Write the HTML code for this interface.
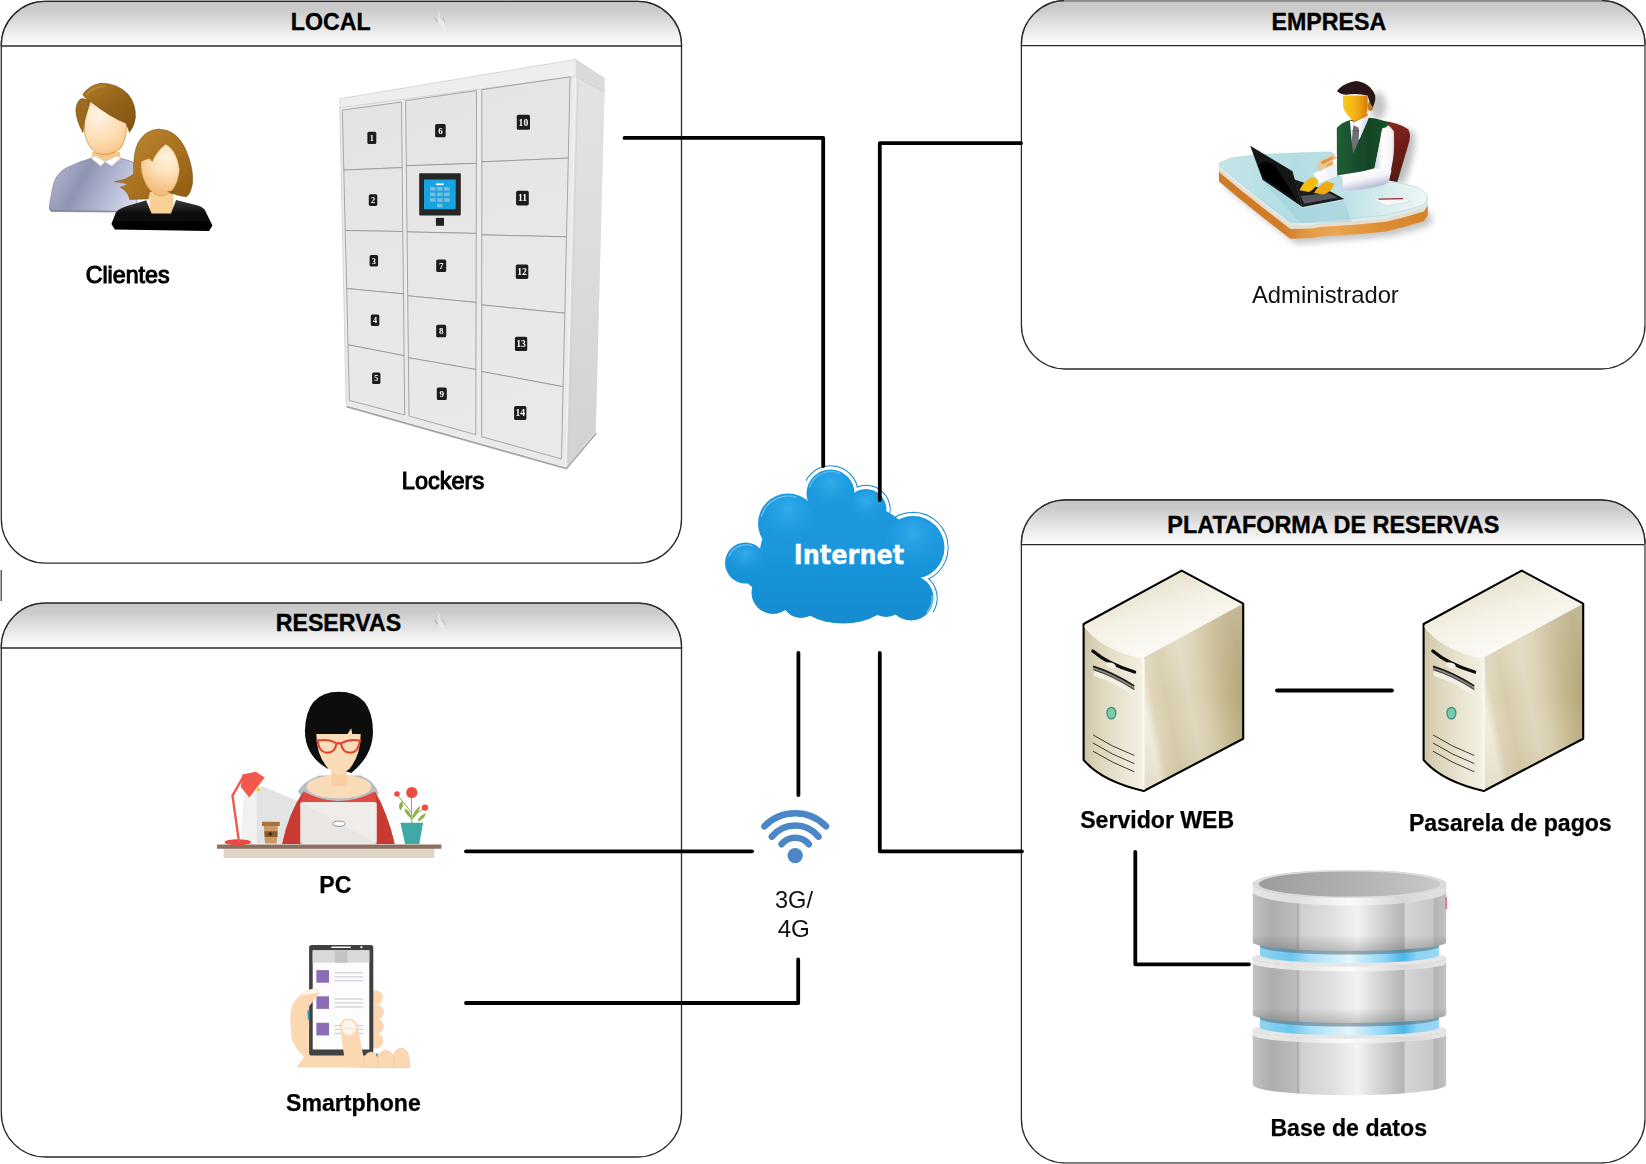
<!DOCTYPE html>
<html lang="es">
<head>
<meta charset="utf-8">
<title>Arquitectura Lockers</title>
<style>
html,body{margin:0;padding:0;background:#fff;}
body{width:1646px;height:1164px;overflow:hidden;font-family:"Liberation Sans",sans-serif;}
svg{display:block;}
text{font-family:"Liberation Sans",sans-serif;}
.hd{font-weight:bold;font-size:23.2px;stroke:#000;stroke-width:0.35px;fill:#000;text-anchor:middle;}
.lb{font-weight:bold;font-size:23.1px;stroke:#000;stroke-width:0.25px;fill:#000;text-anchor:middle;}
.ln{fill:none;stroke:#000;stroke-width:3.8;stroke-linecap:round;stroke-linejoin:round;}
</style>
</head>
<body>
<svg width="1646" height="1164" viewBox="0 0 1646 1164">
<defs>
<linearGradient id="hdg" x1="0" y1="0" x2="0" y2="1">
<stop offset="0" stop-color="#c6c6c6"/><stop offset="0.19" stop-color="#cbcbcb"/><stop offset="0.48" stop-color="#dedede"/><stop offset="0.75" stop-color="#f0f0f0"/><stop offset="1" stop-color="#fdfdfd"/>
</linearGradient>
</defs>
<!--PANELS-->
<g id="panels" stroke="#2a2a2a" stroke-width="1.3" fill="#fff">
<rect x="1.3" y="1.3" width="680.2" height="561.8" rx="44" ry="44"/>
<path d="M1.3 46 V45.3 A44 44 0 0 1 45.3 1.3 H637.5 A44 44 0 0 1 681.5 45.3 V46 Z" fill="url(#hdg)"/>
<rect x="1.3" y="603.2" width="680.2" height="553.8" rx="44" ry="44"/>
<path d="M1.3 648 V647.2 A44 44 0 0 1 45.3 603.2 H637.5 A44 44 0 0 1 681.5 647.2 V648 Z" fill="url(#hdg)"/>
<rect x="1021.4" y="0.7" width="623.6" height="368.3" rx="44" ry="44"/>
<path d="M1021.4 45.6 V44.7 A44 44 0 0 1 1065.4 0.7 H1601 A44 44 0 0 1 1645 44.7 V45.6 Z" fill="url(#hdg)"/>
<rect x="1021.4" y="500" width="623.6" height="663" rx="44" ry="44"/>
<path d="M1021.4 544.6 V544 A44 44 0 0 1 1065.4 500 H1601 A44 44 0 0 1 1645 544 V544.6 Z" fill="url(#hdg)"/>
</g>
<g id="edges" stroke="#8c8c8c" stroke-width="1.6" fill="none">
<line x1="1064" y1="0.7" x2="1602" y2="0.7"/>
<line x1="1645.4" y1="45" x2="1645.4" y2="326"/>
<line x1="1645.4" y1="544" x2="1645.4" y2="1120"/>
<line x1="1064" y1="1163.3" x2="1602" y2="1163.3"/>
</g>
<line x1="1.2" y1="570" x2="1.2" y2="601" stroke="#333" stroke-width="1.2"/>
<g id="smudge"><path d="M437.5 8.5 Q441 14 440 18 Q445 22 446 31 Q442 30 440.5 25 Q437 21 438.5 16 Q438 12 437.5 8.5 Z" fill="#f2f2f2" opacity="0.55"/><path d="M435 18 L437 21.6" stroke="#8a8a8a" stroke-width="0.9" stroke-linecap="round" opacity="0.8"/><path d="M443.4 18 L444.8 22.6" stroke="#9a9a9a" stroke-width="0.7" stroke-linecap="round" opacity="0.7"/></g>
<use href="#smudge" transform="translate(0 602)"/>
<!--HEADERS-->
<text class="hd" x="330.8" y="30.1">LOCAL</text>
<text class="hd" x="1328.8" y="30.1">EMPRESA</text>
<text class="hd" x="338.4" y="631">RESERVAS</text>
<text class="hd" x="1333.3" y="532.8" style="font-size:23.45px">PLATAFORMA DE RESERVAS</text>
<!--CLOUD-->
<g id="cloud">
<defs>
<linearGradient id="cg" gradientUnits="userSpaceOnUse" x1="0" y1="468" x2="0" y2="624">
<stop offset="0" stop-color="#1c9be0"/><stop offset="0.55" stop-color="#1a96dc"/><stop offset="1" stop-color="#168bd0"/>
</linearGradient>
<radialGradient id="ch" cx="0.5" cy="0.25" r="0.6"><stop offset="0" stop-color="#36acec" stop-opacity="0.9"/><stop offset="1" stop-color="#1c9be0" stop-opacity="0"/></radialGradient>
<filter id="cblur" x="-10%" y="-10%" width="120%" height="120%"><feGaussianBlur stdDeviation="0.7"/></filter>
</defs>
<clipPath id="cclip"><path d="M806 440 H960 V612 H925 L900 560 L806 500 Z"/></clipPath>
<g clip-path="url(#cclip)">
<g fill="none" stroke="#2a8fd2" stroke-width="1.2">
<circle cx="830.5" cy="493.5" r="27.6"/><circle cx="866" cy="509.5" r="24.1"/><circle cx="913" cy="547.5" r="35.1"/><circle cx="911" cy="598" r="26.1"/>
</g>
<g fill="#fff" stroke="none">
<circle cx="830.5" cy="493.5" r="27"/><circle cx="866" cy="509.5" r="23.5"/><circle cx="913" cy="547.5" r="34.5"/><circle cx="911" cy="598" r="25.5"/>
</g>
</g>
<g fill="url(#cg)" filter="url(#cblur)">
<circle cx="830.5" cy="493.5" r="24"/>
<circle cx="866" cy="509.5" r="20.5"/>
<circle cx="913" cy="547.5" r="31.5"/>
<circle cx="911" cy="598" r="22.5"/>
<ellipse cx="843" cy="596" rx="47" ry="27.5"/>
<circle cx="773" cy="592.5" r="21.5"/>
<circle cx="801" cy="599" r="19"/>
<circle cx="886" cy="598" r="19"/>
<circle cx="745.5" cy="563" r="20.5"/>
<circle cx="762" cy="572" r="18"/>
<circle cx="788" cy="523.5" r="30"/>
<ellipse cx="838" cy="552" rx="78" ry="52"/>
</g>
<g fill="url(#ch)">
<circle cx="830.5" cy="493.5" r="22"/><circle cx="788" cy="523.5" r="28"/><circle cx="745.5" cy="563" r="18.5"/><circle cx="913" cy="547.5" r="29"/><circle cx="866" cy="509.5" r="18"/>
</g>
<g fill="none" stroke="#7fcbf3" stroke-width="1.3" stroke-linecap="round" opacity="0.75">
<path d="M729 556 A19 19 0 0 1 752 545.5"/>
<path d="M761.5 516 A28 28 0 0 1 796 497"/>
<path d="M809.5 487 A22.5 22.5 0 0 1 840 473.5"/>
<path d="M932 596 A20 20 0 0 1 927 612" stroke="#9ad6f5"/>
</g>
<text x="849" y="563.6" text-anchor="middle" style="font-family:'DejaVu Sans','Liberation Sans',sans-serif;font-weight:bold;font-size:26.2px" fill="#fff" stroke="#fff" stroke-width="0.3" textLength="110.6" lengthAdjust="spacingAndGlyphs">Internet</text>
</g>
<!--WIFI-->
<g id="wifi" fill="none" stroke="#4b86c9" stroke-width="6.6" stroke-linecap="round">
<circle cx="795.2" cy="855.6" r="7.7" fill="#4b86c9" stroke="none"/>
<path d="M781.6 844.2 A17.6 17.6 0 0 1 808.8 844.2"/>
<path d="M771.9 836.6 A30 30 0 0 1 818.5 836.6"/>
<path d="M764.4 826.3 A43 43 0 0 1 826 826.3"/>
</g>
<!--SERVER-->
<defs>
<linearGradient id="svTop" gradientUnits="userSpaceOnUse" x1="1150" y1="575" x2="1175" y2="655">
<stop offset="0" stop-color="#e6dfca"/><stop offset="0.45" stop-color="#f4f1e6"/><stop offset="1" stop-color="#fdfcf8"/></linearGradient>
<linearGradient id="svFront" gradientUnits="userSpaceOnUse" x1="1083" y1="0" x2="1144" y2="0">
<stop offset="0" stop-color="#cdc4a6"/><stop offset="0.25" stop-color="#ddd5bb"/><stop offset="0.7" stop-color="#ece7d6"/><stop offset="0.9" stop-color="#f1ecdd"/><stop offset="1" stop-color="#f8f5ec"/></linearGradient>
<linearGradient id="svSide" gradientUnits="userSpaceOnUse" x1="1144" y1="700" x2="1243" y2="680">
<stop offset="0" stop-color="#f2eddc"/><stop offset="0.08" stop-color="#dfd6b9"/><stop offset="0.22" stop-color="#d7cdab"/><stop offset="0.44" stop-color="#e0d8bd"/><stop offset="0.58" stop-color="#d9cfae"/><stop offset="0.82" stop-color="#c1b388"/><stop offset="1" stop-color="#b2a273"/></linearGradient>
<linearGradient id="svSideV" x1="0" y1="0" x2="0" y2="1"><stop offset="0" stop-color="#fff" stop-opacity="0.25"/><stop offset="0.5" stop-color="#fff" stop-opacity="0"/><stop offset="1" stop-color="#6b5a2a" stop-opacity="0.12"/></linearGradient>
<g id="server">
<path d="M1083.6 624 L1181.7 570.6 L1243.2 603.7 L1143.8 657.4 Q1101 648 1083.6 624 Z" fill="url(#svTop)"/>
<path d="M1143.8 657.4 L1243.2 603.7 V738.7 L1143.8 791 Z" fill="url(#svSide)"/>
<path d="M1143.8 657.4 L1243.2 603.7 V738.7 L1143.8 791 Z" fill="url(#svSideV)"/>
<path d="M1083.6 624 Q1101 648 1143.8 657.4 V791 Q1101 781 1083.6 759.8 Z" fill="url(#svFront)"/>
<path d="M1083.6 624 L1181.7 570.6 L1243.2 603.7 V738.7 L1143.8 791 Q1101 781 1083.6 759.8 Z" fill="none" stroke="#000" stroke-width="2.1" stroke-linejoin="round"/>
<path d="M1143.8 658.5 V790" stroke="#fbf9f2" stroke-width="1.6" fill="none"/>
<path d="M1084.6 626 Q1101 649 1143.8 658.4" stroke="#faf8f0" stroke-width="1.4" fill="none"/>
<path d="M1093 666 Q1112 672 1134.3 685.9 V696.2 Q1112 681 1093.9 676 Z" fill="#f3f0e6"/>
<path d="M1093 666 Q1112 672 1134.3 685.9 V690.4 Q1112 676 1093.4 670.6 Z" fill="#8d897c"/>
<path d="M1093 666.4 Q1112 672 1134.3 685.9" stroke="#1d1d1d" stroke-width="1.7" fill="none"/>
<path d="M1093.3 669.6 Q1112 675.4 1134.3 689.4" stroke="#3a3a3a" stroke-width="0.9" fill="none"/>
<path d="M1092.8 651 Q1108 664 1134.6 672" stroke="#0a0a0a" stroke-width="3.2" fill="none" stroke-linecap="round"/>
<ellipse cx="1110.8" cy="665.2" rx="5" ry="2.6" fill="#f4f1e8" transform="rotate(18 1110.8 665.2)"/>
<ellipse cx="1111.4" cy="713.1" rx="5.1" ry="6.4" fill="#3f8d73"/>
<ellipse cx="1111.4" cy="713.1" rx="3.9" ry="5.2" fill="#77ccae"/>
<g stroke="#2a271c" stroke-width="0.9" fill="none">
<path d="M1093 734.9 Q1112 747 1134.3 755.5"/><path d="M1093 743 Q1112 755 1134.3 763.6"/><path d="M1093 751.2 Q1112 763 1134.3 771.8"/>
</g>
</g>
</defs>
<use href="#server"/>
<use href="#server" transform="translate(340 0)"/>
<!--DB-->
<defs>
<linearGradient id="dbg" gradientUnits="userSpaceOnUse" x1="1252.8" y1="0" x2="1446.2" y2="0">
<stop offset="0" stop-color="#c4c4c4"/><stop offset="0.05" stop-color="#b6b6b6"/><stop offset="0.10" stop-color="#adadad"/><stop offset="0.225" stop-color="#bdbdbd"/><stop offset="0.232" stop-color="#a9a9a9"/><stop offset="0.245" stop-color="#cfcfcf"/>
<stop offset="0.40" stop-color="#dedede"/><stop offset="0.54" stop-color="#f3f3f3"/><stop offset="0.60" stop-color="#e2e2e2"/><stop offset="0.78" stop-color="#b4b4b4"/><stop offset="0.79" stop-color="#d6d6d6"/><stop offset="0.93" stop-color="#c6c6c6"/><stop offset="0.94" stop-color="#b4b4b4"/><stop offset="1" stop-color="#c2c2c2"/>
</linearGradient>
<linearGradient id="dbr" gradientUnits="userSpaceOnUse" x1="1252.8" y1="0" x2="1446.2" y2="0">
<stop offset="0" stop-color="#e9e9e9"/><stop offset="0.23" stop-color="#e4e4e4"/><stop offset="0.5" stop-color="#fbfbfb"/><stop offset="0.78" stop-color="#dadada"/><stop offset="1" stop-color="#e6e6e6"/>
</linearGradient>
<linearGradient id="dbb" gradientUnits="userSpaceOnUse" x1="1252.8" y1="0" x2="1446.2" y2="0">
<stop offset="0.03" stop-color="#8fd3f2"/><stop offset="0.2" stop-color="#6ec6ee"/><stop offset="0.3" stop-color="#a8e0f7"/><stop offset="0.5" stop-color="#e4f6fd"/><stop offset="0.68" stop-color="#8ed5f4"/><stop offset="0.78" stop-color="#49b6e8"/><stop offset="0.85" stop-color="#8ed5f4"/><stop offset="1" stop-color="#9bd8f3"/>
</linearGradient>
<linearGradient id="dbt" gradientUnits="userSpaceOnUse" x1="1252.8" y1="870" x2="1446.2" y2="900">
<stop offset="0" stop-color="#9a9a9a"/><stop offset="0.5" stop-color="#b0b0b0"/><stop offset="1" stop-color="#cbcbcb"/>
</linearGradient>
<linearGradient id="dbsh" x1="0" y1="0" x2="0" y2="1"><stop offset="0" stop-color="#000" stop-opacity="0"/><stop offset="0.8" stop-color="#000" stop-opacity="0"/><stop offset="1" stop-color="#000" stop-opacity="0.18"/></linearGradient>
</defs>
<g id="db">
<path d="M1252.8 1030 V1084.7 A96.7 10.5 0 0 0 1446.2 1084.7 V1030 A96.7 8.5 0 0 0 1252.8 1030 Z" fill="url(#dbg)"/>
<path d="M1252.8 1030 A96.7 8.5 0 0 0 1446.2 1030 V1034.8 A96.7 8.5 0 0 1 1252.8 1034.8 Z" fill="url(#dbr)"/>
<ellipse cx="1349.5" cy="1030" rx="96.7" ry="8.5" fill="#e6e6e6"/>
<path d="M1259.9 1014 V1027.3 A89.6 8 0 0 0 1439.1 1027.3 V1014 Z" fill="url(#dbb)"/>
<path d="M1259.9 1014 A89.6 8 0 0 0 1439.1 1014 V1018.5 A89.6 8 0 0 1 1259.9 1018.5 Z" fill="#5c6a72" opacity="0.55"/>
<path d="M1252.8 958 V1014.6 A96.7 8.3 0 0 0 1446.2 1014.6 V958 A96.7 8.5 0 0 0 1252.8 958 Z" fill="url(#dbg)"/>
<path d="M1252.8 958 V1014.6 A96.7 8.3 0 0 0 1446.2 1014.6 V958 A96.7 8.5 0 0 0 1252.8 958 Z" fill="url(#dbsh)"/>
<path d="M1252.8 958 A96.7 8.5 0 0 0 1446.2 958 V963 A96.7 8.5 0 0 1 1252.8 963 Z" fill="url(#dbr)"/>
<ellipse cx="1349.5" cy="958" rx="96.7" ry="8.5" fill="#e6e6e6"/>
<path d="M1259.9 942 V955 A89.6 8 0 0 0 1439.1 955 V942 Z" fill="url(#dbb)"/>
<path d="M1259.9 942 A89.6 8 0 0 0 1439.1 942 V946.5 A89.6 8 0 0 1 1259.9 946.5 Z" fill="#5c6a72" opacity="0.55"/>
<path d="M1252.8 884 V942.5 A96.7 8.3 0 0 0 1446.2 942.5 V884 A96.7 14 0 0 0 1252.8 884 Z" fill="url(#dbg)"/>
<path d="M1252.8 884 V942.5 A96.7 8.3 0 0 0 1446.2 942.5 V884 A96.7 14 0 0 0 1252.8 884 Z" fill="url(#dbsh)"/>
<path d="M1252.8 884 A96.7 14 0 0 0 1446.2 884 V891.5 A96.7 14 0 0 1 1252.8 891.5 Z" fill="url(#dbr)" opacity="0.9"/>
<ellipse cx="1349.5" cy="884" rx="96.7" ry="14" fill="#dcdcdc"/>
<ellipse cx="1349.5" cy="884" rx="90.7" ry="12.6" fill="url(#dbt)"/>
<rect x="1445.4" y="897" width="1.6" height="12" fill="#e8506a" opacity="0.8"/>
</g>
<!--LOCKER-->
<defs>
<linearGradient id="lkF" gradientUnits="userSpaceOnUse" x1="340" y1="100" x2="570" y2="460"><stop offset="0" stop-color="#ececec"/><stop offset="1" stop-color="#e9e9e9"/></linearGradient>
<linearGradient id="lkD" gradientUnits="userSpaceOnUse" x1="340" y1="80" x2="480" y2="460"><stop offset="0" stop-color="#e3e3e3"/><stop offset="0.5" stop-color="#e7e7e7"/><stop offset="1" stop-color="#e9e9e9"/></linearGradient>
<linearGradient id="lkS" gradientUnits="userSpaceOnUse" x1="575" y1="80" x2="600" y2="440"><stop offset="0" stop-color="#e3e3e3"/><stop offset="0.5" stop-color="#dcdcdc"/><stop offset="1" stop-color="#d3d3d3"/></linearGradient>
<filter id="lkb" x="-5%" y="-5%" width="110%" height="110%"><feGaussianBlur stdDeviation="0.45"/></filter>
</defs>
<g id="locker" filter="url(#lkb)">
<path d="M346.5 405.5 L566 467.4 L596 432.2 L596.6 434 L566.6 469.6 L346.5 407.6 Z" fill="#6a6a6a" opacity="0.6"/>
<path d="M339.8 98.8 L575.4 59.5 L604.5 78.4 L604.5 92.5 L595.7 431.7 L566.1 466.9 L346.2 405.1 L339.8 107.7 Z" fill="url(#lkF)"/>
<path d="M575.6 76.5 L604.5 92.5 L595.7 431.7 L566.1 466.9 Z" fill="url(#lkS)"/>
<path d="M575.4 59.5 L604.5 78.4 V92.5 L575.4 76.5 Z" fill="#dadada"/>
<path d="M339.8 98.8 L575.4 59.5 V76.5 L339.8 107.7 Z" fill="#eeeeee"/>
<path d="M339.8 98.8 L575.4 59.5 L604.5 78.4" fill="none" stroke="#d0d0d0" stroke-width="0.8"/>
<path d="M339.8 107.7 L575.4 76.5 L604.5 92.5" fill="none" stroke="#c9c9c9" stroke-width="0.7"/>
<path d="M575.6 76.5 L566.1 466.9" fill="none" stroke="#f4f4f4" stroke-width="1.2"/>
<path d="M578 78.5 L568.7 463.5" fill="none" stroke="#cfcfcf" stroke-width="0.7"/>
<path d="M339.8 98.8 V107.7 L346.2 405.1" fill="none" stroke="#cdcdcd" stroke-width="0.8"/>
<g fill="url(#lkD)" stroke="#8f8f8f" stroke-width="0.75" stroke-linejoin="round">
<path d="M342.3 110.1 L401.5 102.0 L402.2 167.6 L343.8 170.0 Z"/>
<path d="M343.8 170.0 L402.2 167.6 L402.8 231.5 L345.2 230.5 Z"/>
<path d="M345.2 230.5 L402.8 231.5 L403.5 293.9 L346.7 288.5 Z"/>
<path d="M346.7 288.5 L403.5 293.9 L404.1 355.7 L348.0 344.8 Z"/>
<path d="M348.0 344.8 L404.1 355.7 L404.7 415.0 L349.4 400.5 Z"/>
<path d="M405.6 100.7 L476.5 90.6 L476.4 163.4 L406.3 165.7 Z"/>
<path d="M406.3 165.7 L476.4 163.4 L476.2 233.4 L407.0 231.9 Z"/>
<path d="M407.0 231.9 L476.2 233.4 L476.1 302.4 L407.7 295.8 Z"/>
<path d="M407.7 295.8 L476.1 302.4 L475.9 369.5 L408.4 357.7 Z"/>
<path d="M408.4 357.7 L475.9 369.5 L475.8 434.7 L409.0 416.0 Z"/>
<path d="M481.8 89.7 L570.1 76.8 L568.3 158.1 L481.8 161.9 Z"/>
<path d="M481.8 161.9 L568.3 158.1 L566.5 236.8 L481.8 234.9 Z"/>
<path d="M481.8 234.9 L566.5 236.8 L564.8 313.2 L481.7 304.9 Z"/>
<path d="M481.7 304.9 L564.8 313.2 L563.1 386.7 L481.7 371.5 Z"/>
<path d="M481.7 371.5 L563.1 386.7 L561.5 459.0 L481.7 436.7 Z"/>
</g>
<rect x="419.2" y="173.3" width="41.6" height="42.1" rx="1" fill="#262626"/>
<rect x="424" y="179.5" width="31.7" height="29.7" fill="#19a4e2"/>
<g fill="#7fb9dc"><rect x="430" y="187" width="5.5" height="3.6"/><rect x="437" y="187" width="5.5" height="3.6"/><rect x="444" y="187" width="5.5" height="3.6"/>
<rect x="430" y="192.6" width="5.5" height="3.6"/><rect x="437" y="192.6" width="5.5" height="3.6"/><rect x="444" y="192.6" width="5.5" height="3.6"/>
<rect x="430" y="198.2" width="5.5" height="3.6"/><rect x="437" y="198.2" width="5.5" height="3.6"/><rect x="444" y="198.2" width="5.5" height="3.6"/>
<rect x="437" y="203.8" width="5.5" height="3.6"/></g>
<rect x="436" y="183.4" width="7.5" height="1.7" fill="#fff"/>
<rect x="435.9" y="217.9" width="8.1" height="7.9" fill="#222"/>
<rect x="367.4" y="131.7" width="8.9" height="12.3" rx="1.6" fill="#1b1b1b"/><text x="371.9" y="140.6" font-size="8.2" text-anchor="middle" fill="#fff" style="font-family:'Liberation Serif',serif;font-weight:bold">1</text>
<rect x="368.8" y="194.2" width="8.5" height="11.7" rx="1.6" fill="#1b1b1b"/><text x="373.0" y="202.9" font-size="8.2" text-anchor="middle" fill="#fff" style="font-family:'Liberation Serif',serif;font-weight:bold">2</text>
<rect x="369.6" y="255.1" width="8.5" height="11.5" rx="1.6" fill="#1b1b1b"/><text x="373.9" y="263.7" font-size="8.2" text-anchor="middle" fill="#fff" style="font-family:'Liberation Serif',serif;font-weight:bold">3</text>
<rect x="370.8" y="314.4" width="8.5" height="11.5" rx="1.6" fill="#1b1b1b"/><text x="375.0" y="322.9" font-size="8.2" text-anchor="middle" fill="#fff" style="font-family:'Liberation Serif',serif;font-weight:bold">4</text>
<rect x="372.1" y="372.6" width="8.3" height="11.5" rx="1.6" fill="#1b1b1b"/><text x="376.2" y="381.2" font-size="8.2" text-anchor="middle" fill="#fff" style="font-family:'Liberation Serif',serif;font-weight:bold">5</text>
<rect x="435.1" y="124.1" width="10.6" height="13.2" rx="1.6" fill="#1b1b1b"/><text x="440.4" y="133.8" font-size="9" text-anchor="middle" fill="#fff" style="font-family:'Liberation Serif',serif;font-weight:bold">6</text>
<rect x="436.2" y="259.6" width="10" height="12.5" rx="1.6" fill="#1b1b1b"/><text x="441.2" y="268.9" font-size="9" text-anchor="middle" fill="#fff" style="font-family:'Liberation Serif',serif;font-weight:bold">7</text>
<rect x="436.2" y="324.8" width="10" height="12.5" rx="1.6" fill="#1b1b1b"/><text x="441.2" y="334.1" font-size="9" text-anchor="middle" fill="#fff" style="font-family:'Liberation Serif',serif;font-weight:bold">8</text>
<rect x="436.8" y="387.6" width="10" height="12.5" rx="1.6" fill="#1b1b1b"/><text x="441.8" y="396.9" font-size="9" text-anchor="middle" fill="#fff" style="font-family:'Liberation Serif',serif;font-weight:bold">9</text>
<rect x="516.8" y="114.7" width="13.2" height="15.1" rx="1.6" fill="#1b1b1b"/><text x="523.4" y="125.5" font-size="9.6" text-anchor="middle" fill="#fff" style="font-family:'Liberation Serif',serif;font-weight:bold">10</text>
<rect x="516.1" y="190.8" width="12.7" height="14.6" rx="1.6" fill="#1b1b1b"/><text x="522.5" y="201.4" font-size="9.6" text-anchor="middle" fill="#fff" style="font-family:'Liberation Serif',serif;font-weight:bold">11</text>
<rect x="515.8" y="264.4" width="12.5" height="14.5" rx="1.6" fill="#1b1b1b"/><text x="522.0" y="275.0" font-size="9.6" text-anchor="middle" fill="#fff" style="font-family:'Liberation Serif',serif;font-weight:bold">12</text>
<rect x="514.9" y="336.7" width="12.3" height="14.3" rx="1.6" fill="#1b1b1b"/><text x="521.0" y="347.1" font-size="9.6" text-anchor="middle" fill="#fff" style="font-family:'Liberation Serif',serif;font-weight:bold">13</text>
<rect x="514.1" y="406.0" width="12.3" height="14" rx="1.6" fill="#1b1b1b"/><text x="520.2" y="416.3" font-size="9.6" text-anchor="middle" fill="#fff" style="font-family:'Liberation Serif',serif;font-weight:bold">14</text>
</g>
<!--PEOPLE-->
<defs>
<linearGradient id="mBody" gradientUnits="userSpaceOnUse" x1="52" y1="165" x2="135" y2="212"><stop offset="0" stop-color="#b3b7d1"/><stop offset="0.35" stop-color="#8f94b3"/><stop offset="0.7" stop-color="#b9bdd6"/><stop offset="1" stop-color="#dfe1ee"/></linearGradient>
<radialGradient id="mFace" gradientUnits="userSpaceOnUse" cx="98" cy="116" r="42"><stop offset="0" stop-color="#fff4e6"/><stop offset="0.5" stop-color="#fee0b8"/><stop offset="0.85" stop-color="#fbcd96"/><stop offset="1" stop-color="#f3b672"/></radialGradient>
<linearGradient id="mHair" gradientUnits="userSpaceOnUse" x1="95" y1="85" x2="125" y2="130"><stop offset="0" stop-color="#a97622"/><stop offset="0.5" stop-color="#93621a"/><stop offset="1" stop-color="#85560f"/></linearGradient>
<radialGradient id="wFace" gradientUnits="userSpaceOnUse" cx="167" cy="158" r="34"><stop offset="0" stop-color="#fff3e0"/><stop offset="0.5" stop-color="#fddfb4"/><stop offset="1" stop-color="#f3bd7c"/></radialGradient>
<linearGradient id="wHair" gradientUnits="userSpaceOnUse" x1="130" y1="135" x2="195" y2="200"><stop offset="0" stop-color="#b98330"/><stop offset="0.5" stop-color="#a7701f"/><stop offset="1" stop-color="#8b5a14"/></linearGradient>
<linearGradient id="wBody" x1="0" y1="0" x2="0" y2="1"><stop offset="0" stop-color="#3c3c3c"/><stop offset="0.45" stop-color="#0b0b0b"/><stop offset="1" stop-color="#000"/></linearGradient>
<filter id="ppb" x="-5%" y="-5%" width="110%" height="110%"><feGaussianBlur stdDeviation="0.5"/></filter>
</defs>
<g id="people" filter="url(#ppb)">
<!-- man -->
<path d="M51.7 210.9 L136.4 211.4 L136.4 163.5 Q127.6 159.8 119.6 158.1 L91.8 158.1 Q78.0 162.0 66.3 167.9 Q55.3 173.7 52.9 186.8 L49.5 205.1 Q49.1 209.5 51.7 210.9 Z" fill="url(#mBody)" stroke="#8a8ca0" stroke-width="0.8"/>
<path d="M50.2 207.3 Q49.6 210.5 52.4 211.1 L121.8 211.7" fill="none" stroke="#77798c" stroke-width="1.6" opacity="0.7"/>
<path d="M92.3 151.8 L120.0 151.8 L120.6 159.4 L111.6 164.9 L105.0 160.8 L100.2 165.2 L91.4 159.4 Z" fill="#f6c78a"/>
<path d="M91.4 157.6 L95.5 156.2 L105.0 161.7 L100.6 166.1 Z" fill="#fff" stroke="#d5d7e2" stroke-width="0.5"/>
<path d="M120.6 157.6 L116.7 156.2 L105.0 161.7 L111.9 166.1 Z" fill="#fff" stroke="#d5d7e2" stroke-width="0.5"/>
<path d="M84.5 110.1 Q84.5 99.5 94.3 97.8 L122.0 106.0 Q126.9 114.2 126.5 127.2 Q126.1 140.3 120.4 148.4 Q108.9 157.4 96.7 153.3 Q86.9 146.8 84.5 132.1 Z" fill="url(#mFace)" stroke="#c58a45" stroke-width="0.7"/>
<path d="M90.2 101.3 Q87.3 98.2 81.2 98.8 Q76.3 101.9 75.9 110.1 Q76.3 120.7 83.0 132.5 Q83.7 120.7 87.7 110.1 Z" fill="#9b6a1c" stroke="#6f470e" stroke-width="0.6"/>
<path d="M82.8 95.0 Q87.7 85.6 100.8 83.2 Q117.1 83.2 127.7 93.8 Q135.9 103.5 135.4 117.4 Q134.6 125.6 129.5 132.3 L126.2 123.3 Q110.6 117.4 90.2 101.3 Q86.1 98.7 82.8 95.0 Z" fill="url(#mHair)" stroke="#6f470e" stroke-width="0.6"/>
<path d="M86.9 94.2 Q94.3 86.4 105.7 86.0" fill="none" stroke="#c79a45" stroke-width="1.4" stroke-linecap="round" opacity="0.55"/>
<!-- woman -->
<path d="M148.8 192.2 L173.6 192.2 L173.0 213.8 L150.4 213.8 Z" fill="#f8cf94"/>
<path d="M146.2 200.2 L125.6 206.6 Q117.4 209.7 115.8 212.8 L111.4 224.1 L114.8 229.5 L209.1 231.1 L212.4 225.4 L204.5 209.2 Q200.9 206.1 197.8 205.4 L176.1 199.9 L171.0 213.6 L151.6 213.6 Z" fill="url(#wBody)"/>
<path d="M158.6 129.1 Q177.2 129.3 186.4 150.9 Q193.7 168.5 192.6 182.9 Q190.6 194.2 186.4 196.8 Q177.2 196.3 166.9 191.1 L172.0 186.0 L149.3 192.2 L148.3 198.9 L129.7 199.6 Q128.7 192.2 120.5 187.2 Q125.6 186.0 127.2 183.4 Q121.5 182.9 114.5 181.6 Q127.7 179.8 133.7 173.6 Q132.8 154.0 138.0 142.7 Q146.2 129.3 158.6 129.1 Z" fill="url(#wHair)" stroke="#7d5212" stroke-width="0.5"/>
<path d="M165.8 144.2 Q177.2 150.9 179.4 169.5 Q178.7 181.9 172.0 190.6 Q165.8 196.8 158.6 195.8 Q150.4 192.2 145.7 183.9 Q140.1 172.6 141.1 161.8 Q145.2 159.2 149.5 158.4 L152.2 161.8 Q156.5 150.9 165.8 144.2 Z" fill="url(#wFace)" stroke="#c98a3c" stroke-width="0.5"/>
<path d="M166.9 191.1 Q175.1 192.2 181.3 187.0 Q177.2 194.2 171.0 193.7 Z" fill="#8f5e16"/>
</g>
<!--ADMIN-->
<defs>
<linearGradient id="adGlass" gradientUnits="userSpaceOnUse" x1="1220" y1="160" x2="1430" y2="205"><stop offset="0" stop-color="#c4e5ea"/><stop offset="0.35" stop-color="#b3dde4"/><stop offset="0.62" stop-color="#bfe2e6"/><stop offset="0.85" stop-color="#dff0f1"/><stop offset="1" stop-color="#eef7f7"/></linearGradient>
<linearGradient id="adWood" gradientUnits="userSpaceOnUse" x1="1220" y1="0" x2="1430" y2="0"><stop offset="0" stop-color="#cf7a26"/><stop offset="0.3" stop-color="#d17c27"/><stop offset="0.42" stop-color="#e39a45"/><stop offset="0.55" stop-color="#eaa652"/><stop offset="0.75" stop-color="#dd8f36"/><stop offset="1" stop-color="#d58228"/></linearGradient>
<linearGradient id="adHead" gradientUnits="userSpaceOnUse" x1="1343" y1="0" x2="1368" y2="0"><stop offset="0" stop-color="#f9c81c"/><stop offset="0.45" stop-color="#f5b516"/><stop offset="0.8" stop-color="#e3910f"/><stop offset="1" stop-color="#c97a12"/></linearGradient>
<linearGradient id="adVest" gradientUnits="userSpaceOnUse" x1="1337" y1="0" x2="1390" y2="0"><stop offset="0" stop-color="#1f6135"/><stop offset="0.2" stop-color="#1a5530"/><stop offset="0.6" stop-color="#154426"/><stop offset="1" stop-color="#1b5530"/></linearGradient>
<linearGradient id="adChair" gradientUnits="userSpaceOnUse" x1="1385" y1="120" x2="1410" y2="180"><stop offset="0" stop-color="#8d2a24"/><stop offset="0.45" stop-color="#6e1c18"/><stop offset="1" stop-color="#4f1a12"/></linearGradient>
<linearGradient id="adSleeve" gradientUnits="userSpaceOnUse" x1="1345" y1="170" x2="1350" y2="192"><stop offset="0" stop-color="#ffffff"/><stop offset="0.55" stop-color="#f7f7fb"/><stop offset="1" stop-color="#b9bdd6"/></linearGradient>
<linearGradient id="adSleeveV" gradientUnits="userSpaceOnUse" x1="1376" y1="0" x2="1395" y2="0"><stop offset="0" stop-color="#d5d8e8"/><stop offset="0.35" stop-color="#ffffff"/><stop offset="0.8" stop-color="#f4f4f9"/><stop offset="1" stop-color="#cfd2e3"/></linearGradient>
<filter id="adSh" x="-20%" y="-20%" width="140%" height="140%"><feGaussianBlur stdDeviation="3.4"/></filter>
<filter id="adb" x="-5%" y="-5%" width="110%" height="110%"><feGaussianBlur stdDeviation="0.5"/></filter>
</defs>
<g id="admin">
<g filter="url(#adSh)" opacity="0.38">
<path d="M1218.8 184.2 L1230.6 179.0 L1256.4 175.7 L1292.5 174.1 L1328.6 172.9 L1332.9 173.9 L1332.7 175.7 L1320.8 180.9 L1317.7 185.0 L1317.2 189.7 L1345.0 199.0 L1398.4 203.6 L1419.2 208.8 L1426.8 215.4 L1427.7 220.1 L1423.9 225.8 L1405.0 231.5 L1386.1 236.2 L1357.8 239.0 L1320.0 241.4 L1313.1 242.8 L1290.4 243.5 L1266.7 225.2 L1240.9 204.6 L1219.3 186.6 Z" fill="#6b6b6b" transform="translate(5 0)"/>
<path d="M1388 124 L1414 132 Q1418 150 1404 184 L1392 182 Z" fill="#555"/>
<ellipse cx="1378" cy="106" rx="8" ry="14" fill="#666"/>
</g>
<g filter="url(#adb)">
<path d="M1218.8 179.4 L1230.6 174.2 L1256.4 170.9 L1292.5 169.3 L1328.6 168.1 L1332.9 169.1 L1332.7 170.9 L1320.8 176.1 L1317.7 180.2 L1317.2 184.9 L1345.0 194.2 L1398.4 198.8 L1419.2 204.0 L1426.8 210.6 L1427.7 215.3 L1423.9 221.0 L1405.0 226.7 L1386.1 231.4 L1357.8 234.2 L1320.0 236.6 L1313.1 238.0 L1290.4 238.7 L1266.7 220.4 L1240.9 199.8 L1219.3 181.8 Z" fill="url(#adWood)"/>
<path d="M1218.8 178.2 L1230.6 173.0 L1256.4 169.7 L1292.5 168.1 L1328.6 166.9 L1332.9 167.9 L1332.7 169.7 L1320.8 174.9 L1317.7 179.0 L1317.2 183.7 L1345.0 193.0 L1398.4 197.6 L1419.2 202.8 L1426.8 209.4 L1427.7 214.1 L1423.9 219.8 L1405.0 225.5 L1386.1 230.2 L1357.8 233.0 L1320.0 235.4 L1313.1 236.8 L1290.4 237.5 L1266.7 219.2 L1240.9 198.6 L1219.3 180.6 Z" fill="url(#adWood)"/>
<path d="M1218.8 177.0 L1230.6 171.8 L1256.4 168.5 L1292.5 166.9 L1328.6 165.7 L1332.9 166.7 L1332.7 168.5 L1320.8 173.7 L1317.7 177.8 L1317.2 182.5 L1345.0 191.8 L1398.4 196.4 L1419.2 201.6 L1426.8 208.2 L1427.7 212.9 L1423.9 218.6 L1405.0 224.3 L1386.1 229.0 L1357.8 231.8 L1320.0 234.2 L1313.1 235.6 L1290.4 236.3 L1266.7 218.0 L1240.9 197.4 L1219.3 179.4 Z" fill="url(#adWood)"/>
<path d="M1218.8 175.8 L1230.6 170.6 L1256.4 167.3 L1292.5 165.7 L1328.6 164.5 L1332.9 165.5 L1332.7 167.3 L1320.8 172.5 L1317.7 176.6 L1317.2 181.3 L1345.0 190.6 L1398.4 195.2 L1419.2 200.4 L1426.8 207.0 L1427.7 211.7 L1423.9 217.4 L1405.0 223.1 L1386.1 227.8 L1357.8 230.6 L1320.0 233.0 L1313.1 234.4 L1290.4 235.1 L1266.7 216.8 L1240.9 196.2 L1219.3 178.2 Z" fill="url(#adWood)"/>
<path d="M1218.8 174.6 L1230.6 169.4 L1256.4 166.1 L1292.5 164.5 L1328.6 163.3 L1332.9 164.3 L1332.7 166.1 L1320.8 171.3 L1317.7 175.4 L1317.2 180.1 L1345.0 189.4 L1398.4 194.0 L1419.2 199.2 L1426.8 205.8 L1427.7 210.5 L1423.9 216.2 L1405.0 221.9 L1386.1 226.6 L1357.8 229.4 L1320.0 231.8 L1313.1 233.2 L1290.4 233.9 L1266.7 215.6 L1240.9 195.0 L1219.3 177.0 Z" fill="url(#adWood)"/>
<path d="M1218.8 173.4 L1230.6 168.2 L1256.4 164.9 L1292.5 163.3 L1328.6 162.1 L1332.9 163.1 L1332.7 164.9 L1320.8 170.1 L1317.7 174.2 L1317.2 178.9 L1345.0 188.2 L1398.4 192.8 L1419.2 198.0 L1426.8 204.6 L1427.7 209.3 L1423.9 215.0 L1405.0 220.7 L1386.1 225.4 L1357.8 228.2 L1320.0 230.6 L1313.1 232.0 L1290.4 232.7 L1266.7 214.4 L1240.9 193.8 L1219.3 175.8 Z" fill="url(#adWood)"/>
<path d="M1218.8 172.2 L1230.6 167.0 L1256.4 163.7 L1292.5 162.1 L1328.6 160.9 L1332.9 161.9 L1332.7 163.7 L1320.8 168.9 L1317.7 173.0 L1317.2 177.7 L1345.0 187.0 L1398.4 191.6 L1419.2 196.8 L1426.8 203.4 L1427.7 208.1 L1423.9 213.8 L1405.0 219.5 L1386.1 224.2 L1357.8 227.0 L1320.0 229.4 L1313.1 230.8 L1290.4 231.5 L1266.7 213.2 L1240.9 192.6 L1219.3 174.6 Z" fill="url(#adWood)"/>
<path d="M1218.8 171.0 L1230.6 165.8 L1256.4 162.5 L1292.5 160.9 L1328.6 159.7 L1332.9 160.7 L1332.7 162.5 L1320.8 167.7 L1317.7 171.8 L1317.2 176.5 L1345.0 185.8 L1398.4 190.4 L1419.2 195.6 L1426.8 202.2 L1427.7 206.9 L1423.9 212.6 L1405.0 218.3 L1386.1 223.0 L1357.8 225.8 L1320.0 228.2 L1313.1 229.6 L1290.4 230.3 L1266.7 212.0 L1240.9 191.4 L1219.3 173.4 Z" fill="url(#adWood)"/>
<path d="M1218.8 169.8 L1230.6 164.6 L1256.4 161.3 L1292.5 159.7 L1328.6 158.5 L1332.9 159.5 L1332.7 161.3 L1320.8 166.5 L1317.7 170.6 L1317.2 175.3 L1345.0 184.6 L1398.4 189.2 L1419.2 194.4 L1426.8 201.0 L1427.7 205.7 L1423.9 211.4 L1405.0 217.1 L1386.1 221.8 L1357.8 224.6 L1320.0 227.0 L1313.1 228.4 L1290.4 229.1 L1266.7 210.8 L1240.9 190.2 L1219.3 172.2 Z" fill="#e8dccd"/>
<path d="M1218.8 168.6 L1230.6 163.4 L1256.4 160.1 L1292.5 158.5 L1328.6 157.3 L1332.9 158.3 L1332.7 160.1 L1320.8 165.3 L1317.7 169.4 L1317.2 174.1 L1345.0 183.4 L1398.4 188.0 L1419.2 193.2 L1426.8 199.8 L1427.7 204.5 L1423.9 210.2 L1405.0 215.9 L1386.1 220.6 L1357.8 223.4 L1320.0 225.8 L1313.1 227.2 L1290.4 227.9 L1266.7 209.6 L1240.9 189.0 L1219.3 171.0 Z" fill="#e8dccd"/>
<path d="M1218.8 167.4 L1230.6 162.2 L1256.4 158.9 L1292.5 157.3 L1328.6 156.1 L1332.9 157.1 L1332.7 158.9 L1320.8 164.1 L1317.7 168.2 L1317.2 172.9 L1345.0 182.2 L1398.4 186.8 L1419.2 192.0 L1426.8 198.6 L1427.7 203.3 L1423.9 209.0 L1405.0 214.7 L1386.1 219.4 L1357.8 222.2 L1320.0 224.6 L1313.1 226.0 L1290.4 226.7 L1266.7 208.4 L1240.9 187.8 L1219.3 169.8 Z" fill="#e8dccd"/>
<path d="M1218.8 166.2 L1230.6 161.0 L1256.4 157.7 L1292.5 156.1 L1328.6 154.9 L1332.9 155.9 L1332.7 157.7 L1320.8 162.9 L1317.7 167.0 L1317.2 171.7 L1345.0 181.0 L1398.4 185.6 L1419.2 190.8 L1426.8 197.4 L1427.7 202.1 L1423.9 207.8 L1405.0 213.5 L1386.1 218.2 L1357.8 221.0 L1320.0 223.4 L1313.1 224.8 L1290.4 225.5 L1266.7 207.2 L1240.9 186.6 L1219.3 168.6 Z" fill="#dcecec"/>
<path d="M1218.8 165.0 L1230.6 159.8 L1256.4 156.5 L1292.5 154.9 L1328.6 153.7 L1332.9 154.7 L1332.7 156.5 L1320.8 161.7 L1317.7 165.8 L1317.2 170.5 L1345.0 179.8 L1398.4 184.4 L1419.2 189.6 L1426.8 196.2 L1427.7 200.9 L1423.9 206.6 L1405.0 212.3 L1386.1 217.0 L1357.8 219.8 L1320.0 222.2 L1313.1 223.6 L1290.4 224.3 L1266.7 206.0 L1240.9 185.4 L1219.3 167.4 Z" fill="#dcecec"/>
<path d="M1218.8 163.8 L1230.6 158.6 L1256.4 155.3 L1292.5 153.7 L1328.6 152.5 L1332.9 153.5 L1332.7 155.3 L1320.8 160.5 L1317.7 164.6 L1317.2 169.3 L1345.0 178.6 L1398.4 183.2 L1419.2 188.4 L1426.8 195.0 L1427.7 199.7 L1423.9 205.4 L1405.0 211.1 L1386.1 215.8 L1357.8 218.6 L1320.0 221.0 L1313.1 222.4 L1290.4 223.1 L1266.7 204.8 L1240.9 184.2 L1219.3 166.2 Z" fill="#dcecec"/>
<path d="M1218.8 163.2 L1230.6 158.0 L1256.4 154.7 L1292.5 153.1 L1328.6 151.9 L1332.9 152.9 L1332.7 154.7 L1320.8 159.9 L1317.7 164.0 L1317.2 168.7 L1345.0 178.0 L1398.4 182.6 L1419.2 187.8 L1426.8 194.4 L1427.7 199.1 L1423.9 204.8 L1405.0 210.5 L1386.1 215.2 L1357.8 218.0 L1320.0 220.4 L1313.1 221.8 L1290.4 222.5 L1266.7 204.2 L1240.9 183.6 L1219.3 165.6 Z" fill="url(#adGlass)" stroke="#a6ccd4" stroke-width="0.5"/>
<path d="M1332.9 152.9 L1332.7 154.7 L1320.8 159.9 L1317.7 164 L1317.2 168.7 L1324 171 L1328 163 L1337 158 Z" fill="#e9c79a"/>
<path d="M1321 161.5 L1332.5 156.5 L1333 159 L1322.5 164.5 Z" fill="#e0963f"/>
<path d="M1262.6 181 L1302.3 208.5 L1344 200.5 L1352 222 L1300 223 Z" fill="#9fd0da" opacity="0.55"/>
<!-- chair -->
<path d="M1382.5 120.8 Q1398.2 122.5 1408.2 129.2 Q1411.0 133.7 1409.3 141.5 L1397.3 181.9 L1389.0 180.6 L1393.1 159.3 Q1395.9 137.0 1391.5 128.1 Z" fill="url(#adChair)"/>
<!-- vest -->
<path d="M1336.8 128.1 Q1341.2 122.5 1350.2 120.0 L1369.1 117.8 Q1382.5 119.1 1389.8 123.8 Q1383.7 128.1 1380.9 137.0 L1374.2 169.4 L1337.0 175.5 Z" fill="url(#adVest)"/>
<!-- collar/shirt -->
<path d="M1349.9 120.5 L1351.8 141.5 L1359.1 139.8 L1369.7 115.6 L1366.9 114.1 L1353.5 121.4 Z" fill="#fafbfe"/>
<path d="M1363.3 118.0 L1369.7 115.6 L1359.3 139.8 Z" fill="#dfe3f1"/>
<!-- tie -->
<path d="M1353.5 125.3 L1358.5 127.5 L1359.1 130.9 L1358.5 141.5 L1353.3 153.2 L1351.6 142.6 L1352.6 130.9 Z" fill="#707077"/>
<path d="M1352.6 130.9 L1359.1 130.9" stroke="#4a4a50" stroke-width="0.8"/>
<!-- upper arm -->
<path d="M1382.5 128.1 Q1389.2 125.8 1393.9 130.9 Q1394.6 148.2 1392.6 159.3 L1388.3 182.2 L1373.6 181.7 L1374.7 168.3 L1380.3 139.2 Q1380.9 132.5 1382.5 128.1 Z" fill="url(#adSleeveV)"/>
<!-- forearm -->
<path d="M1374.7 168.3 L1341.8 177.0 L1342.3 190.4 Q1373.6 190.0 1388.3 182.8 L1391.5 170.5 Z" fill="url(#adSleeve)"/>
<path d="M1341.8 177.0 L1342.3 190.4" stroke="#c4c8dc" stroke-width="0.8"/>
<!-- other arm -->
<path d="M1336.8 162.7 L1322.2 169.4 L1326.7 180.0 L1337.3 176.1 Z" fill="#f1f2f8"/>
<path d="M1313.1 173.3 L1325.5 169.2 L1329.6 178.5 L1319.3 183.6 Z" fill="#fbfbfe"/>
<!-- neck & head -->
<path d="M1350.2 116.9 L1367.5 113.0 L1367.8 115.8 L1353.5 122.5 Z" fill="#d4820f"/>
<path d="M1342.9 95.5 L1367.5 95.5 Q1368.2 105.7 1366.9 112.4 Q1360.2 120.8 1353.5 120.5 Q1345.7 114.7 1343.2 106.9 Z" fill="url(#adHead)"/>
<ellipse cx="1370.5" cy="106.3" rx="3" ry="4.6" fill="#c57c2a"/>
<path d="M1336.8 91.2 Q1342.3 83.4 1355.7 80.9 Q1370.3 82.3 1375.3 95.7 Q1375.8 102.4 1372.5 106.9 Q1369.1 102.4 1367.5 95.5 Q1356.9 92.9 1345.7 94.8 Q1340.1 94.0 1336.8 91.2 Z" fill="#2a1913"/>
<!-- laptop -->
<path d="M1294.5 179.5 L1302.3 207.0 L1344.2 198.9 L1331.6 191.9 Z" fill="#1a1a1c"/>
<path d="M1300.7 196.0 L1304.3 203.7 L1337.8 197.5 L1328.6 192.9 Z" fill="#55555c"/>
<path d="M1250.2 145.7 L1292.5 171.2 L1302.3 207.0 L1262.6 179.7 Z" fill="#151517"/>
<path d="M1258.5 165.6 Q1265.7 157.8 1276.0 167.1 L1296.6 200.1 L1263.6 178.5 Z" fill="#000"/>
<!-- hands -->
<path d="M1299.5 190.3 Q1302.8 181.5 1312.1 176.9 L1318.2 179.5 Q1317.2 187.7 1309.0 191.9 Z" fill="#f5bd0c"/>
<path d="M1314.1 193.1 Q1317.2 185.7 1326.5 181.5 L1334.2 183.6 Q1332.7 191.9 1323.4 194.4 Z" fill="#f0a90f"/>
<!-- notepad -->
<path d="M1372.9 199.1 L1405.0 198.2 L1410.9 201.6 L1386.1 205.9 Z" fill="#f7f7f7" stroke="#cfcfcf" stroke-width="0.5"/>
<path d="M1378.6 199.2 L1403.1 198.7" stroke="#8c3030" stroke-width="1.2" fill="none"/>
</g>
</g>
<!--PCGIRL-->
<defs><filter id="pgb" x="-5%" y="-5%" width="110%" height="110%"><feGaussianBlur stdDeviation="0.45"/></filter></defs>
<g id="pcgirl" filter="url(#pgb)">
<!-- light cone -->
<path d="M256.7 790.6 L262.4 785.9 L302.1 802.9 L288.9 843.5 L256.7 843.5 L251.0 801.0 Z" fill="#e3e3e3"/>
<path d="M243.5 793.4 L256.7 790.6 L256.7 843.5 L240.7 843.5 Z" fill="#f1f1f1"/>
<!-- desk -->
<path d="M223.6 847.9 H434.4 V858.1 H223.6 Z" fill="#ddd5c6"/>
<path d="M217.0 844.5 H441.4 V848.7 H217.0 Z" fill="#8b6f60"/>
<!-- lamp -->
<ellipse cx="237.8" cy="842.2" rx="13.2" ry="3.0" fill="#e8493f"/>
<path d="M238.8 840.7 L232.5 795.7 L243.9 775.5" fill="none" stroke="#f15a4c" stroke-width="2.4" stroke-linecap="round" stroke-linejoin="round"/>
<path d="M242.5 774.5 L255.8 771.7 L264.7 777.4 L249.2 797.6 L240.7 786.8 Z" fill="#f2594c"/>
<path d="M256.7 785.9 L260.9 790.6 L256.7 791.6 Z" fill="#f7c83a"/>
<!-- coffee -->
<path d="M262.0 821.8 H279.8 V826.0 H262.0 Z" fill="#a8713d"/>
<path d="M263.9 826.0 H277.9 L276.8 843.5 H265.0 Z" fill="#c99a62"/>
<path d="M264.3 831.3 H277.5 V836.9 H264.7 Z" fill="#8a5a32"/>
<circle cx="270.3" cy="834.1" r="1.8" fill="#3a2a20"/>
<!-- plant -->
<path d="M411.8 823.7 L411.4 797.2 M411.4 812.4 L398.5 796.3 M412.1 816.1 L424.0 808.6" fill="none" stroke="#7c9f3c" stroke-width="0.9"/>
<path d="M411.4 819.0 Q403.3 812.4 405.1 808.6 Q411.8 812.4 411.4 819.0 Z M412.1 819.9 Q419.3 812.4 420.3 805.7 Q412.7 810.5 412.1 819.9 Z M400.4 810.5 Q396.6 804.8 402.3 801.0 Q404.2 806.7 400.4 810.5 Z M417.4 821.8 Q425.0 819.0 425.9 813.3 Q419.3 815.2 417.4 821.8 Z" fill="#8fb24a"/>
<circle cx="411.8" cy="792.5" r="5.6" fill="#ee4b44"/>
<circle cx="397.0" cy="794.0" r="2.8" fill="#ee4b44"/>
<circle cx="425.0" cy="807.6" r="3.2" fill="#ee4b44"/>
<path d="M400.4 822.7 H423.1 L419.3 843.9 H405.1 Z" fill="#3fa8a6"/>
<!-- body -->
<path d="M297.9 791.6 Q302.1 782.1 319.1 775.5 L360.7 775.5 Q374.9 781.2 378.7 793.4 L370.2 804.8 L305.9 804.8 Z" fill="#b6bec6"/>
<path d="M303.6 791.6 Q339.0 810.5 374.9 791.6 Q387.2 812.4 394.7 844.1 L282.2 844.1 Q288.9 812.4 303.6 791.6 Z" fill="#df4a40"/>
<path d="M303.6 791.6 Q288.9 812.4 282.2 844.1 L300.2 844.1 L301.2 801.0 Z" fill="#c93a33"/>
<path d="M374.9 791.6 Q387.2 812.4 394.7 844.1 L376.8 844.1 L376.8 801.0 Z" fill="#c93a33"/>
<ellipse cx="339.0" cy="786.8" rx="32.5" ry="11.7" fill="#fbdcb8"/>
<path d="M331.4 763.2 H346.5 V785.9 H331.4 Z" fill="#f6cfa4"/>
<!-- hair back -->
<path d="M339.0 691.7 Q372.1 691.7 373.0 731.0 Q373.0 755.6 351.3 773.0 L339.0 768.9 L327.1 768.5 Q305.1 755.6 304.9 731.0 Q305.9 691.7 339.0 691.7 Z" fill="#0c0c0c"/>
<!-- face -->
<path d="M316.3 733.9 L347.5 733.9 L351.3 728.2 L352.2 733.9 L360.7 733.9 Q360.7 755.6 349.4 768.9 L339.0 776.0 L328.6 768.9 Q316.3 755.6 316.3 733.9 Z" fill="#fbdcb8"/>
<!-- glasses -->
<g fill="none" stroke="#e3432f" stroke-width="2.1">
<path d="M317.6 740.5 Q328.6 738.6 336.5 743.3 Q335.2 752.8 326.7 752.8 Q318.7 751.8 317.6 740.5 Z"/>
<path d="M359.8 740.5 Q349.4 738.6 341.0 743.3 Q342.2 752.8 350.7 752.8 Q358.8 751.8 359.8 740.5 Z"/>
<path d="M336.5 743.9 Q338.8 742.4 341.0 743.9"/>
</g>
<!-- laptop -->
<rect x="300.2" y="802.0" width="76.6" height="42.0" rx="2.2" fill="#e9e6e3"/>
<path d="M301.2 802.9 L375.8 842.6 L375.8 802.9 Z" fill="#f0edea" opacity="0.8"/>
<ellipse cx="339.0" cy="823.7" rx="6.4" ry="2.6" fill="#fff" stroke="#8c8f96" stroke-width="1"/>
</g>
<!--PHONE-->
<defs><filter id="phb" x="-5%" y="-5%" width="110%" height="110%"><feGaussianBlur stdDeviation="0.4"/></filter></defs>
<g id="phone" filter="url(#phb)">
<!-- back fingers (right) -->
<g fill="#fbd7b2">
<ellipse cx="375.4" cy="997.5" rx="7.6" ry="7.2"/>
<ellipse cx="376.3" cy="1012.0" rx="7.6" ry="7.6"/>
<ellipse cx="376.3" cy="1026.4" rx="7.6" ry="7.6"/>
<ellipse cx="375.8" cy="1040.8" rx="7.6" ry="7.6"/>
</g>
<!-- palm left -->
<path d="M314.1 988.5 Q303.3 991.2 296.1 999.4 Q289.8 1004.8 290.3 1021.0 L291.6 1039.0 Q296.1 1049.8 304.2 1057.1 Q298.8 1064.3 297.0 1067.5 L409.7 1067.5 L407.9 1057.1 L375.4 1053.5 L314.1 1053.5 Z" fill="#fbd7b2"/>
<rect x="306.5" y="1008.4" width="4.0" height="15.3" fill="#2da7b0" />
<!-- phone body -->
<rect x="309.1" y="944.9" width="64.2" height="110.7" rx="2.6" fill="#414042"/>
<rect x="312.7" y="950.3" width="56.6" height="99.2" fill="#fdfdfd" />
<rect x="312.7" y="950.3" width="56.6" height="12.4" fill="#d9d9d9" />
<rect x="334.8" y="950.3" width="12.6" height="12.4" fill="#c4c4c4" />
<rect x="331.2" y="946.5" width="19.8" height="1.4" fill="#f4f4f4" rx="0.7"/>
<circle cx="361.4" cy="947.2" r="1.1" fill="#f0f0f0"/>
<rect x="316.4" y="970.1" width="12.6" height="12.6" fill="#8d6cb6" /><rect x="334.5" y="972.2" width="28.7" height="1.3" fill="#cfd3d8" /><rect x="334.5" y="976.2" width="28.7" height="1.3" fill="#cfd3d8" /><rect x="334.5" y="980.1" width="28.7" height="1.3" fill="#cfd3d8" /><rect x="316.4" y="996.3" width="12.6" height="12.6" fill="#8d6cb6" /><rect x="334.5" y="998.4" width="28.7" height="1.3" fill="#cfd3d8" /><rect x="334.5" y="1002.3" width="28.7" height="1.3" fill="#cfd3d8" /><rect x="334.5" y="1006.3" width="28.7" height="1.3" fill="#cfd3d8" /><rect x="316.4" y="1022.8" width="12.6" height="12.6" fill="#8d6cb6" /><rect x="334.5" y="1024.9" width="28.7" height="1.3" fill="#cfd3d8" /><rect x="334.5" y="1028.8" width="28.7" height="1.3" fill="#cfd3d8" /><rect x="334.5" y="1032.8" width="28.7" height="1.3" fill="#cfd3d8" />
<!-- thumb -->
<path d="M298.8 997.5 Q305.1 989.4 314.1 988.5 Q319.5 989.4 318.6 993.9 Q314.1 999.4 309.1 1006.6 L309.1 1028.2 L296.1 1028.2 Z" fill="#fbd7b2"/>
<path d="M301.8 995.4 Q307.2 989.4 314.1 989.1 Q318.1 990.0 317.3 992.9 Q308.7 993.6 301.8 995.4 Z" fill="#fff6ee"/>
<path d="M307.3 1011 L309.4 1009.6 L309.4 1020.4 L307.9 1019.4 Z" fill="#2aa3b2"/>
<!-- index finger -->
<path d="M340.3 1028.2 Q339.4 1018.8 348.4 1018.5 Q357.4 1018.8 358.3 1030.0 L365.5 1067.5 L345.7 1067.5 Z" fill="#fbd7b2"/>
<path d="M342.1 1027.8 Q341.5 1020.3 348.4 1020.1 Q355.2 1020.3 355.9 1028.2 Q354.7 1034.7 348.7 1035.4 Q343.0 1034.7 342.1 1027.8 Z" fill="#fff8f2"/>
<path d="M343.3 1029.1 Q348.7 1026.4 354.9 1029.3" stroke="#f1cfae" stroke-width="0.8" fill="none"/>
<!-- curled fingers -->
<g fill="#fbd7b2" stroke="#eec39b" stroke-width="0.5">
<path d="M363.7 1067.5 L364.2 1058.0 Q366.4 1051.7 371.8 1052.0 Q377.2 1053.1 378.1 1059.8 L379.0 1067.5 Z"/>
<path d="M378.1 1067.5 L378.1 1057.1 Q380.5 1050.2 386.2 1050.2 Q392.6 1051.3 393.5 1058.0 L394.4 1067.5 Z"/>
<path d="M393.8 1067.5 L393.5 1055.3 Q395.6 1048.4 401.6 1048.0 Q407.9 1049.1 408.8 1057.1 L410.0 1067.5 Z"/>
</g>
<path d="M375.9 1053.6 L377.8 1053.6 L377.6 1056.2 L376.3 1056.2 Z" fill="#2da7b0"/>
</g>
<!--ART-->
<!--LINES-->
<g id="lines" class="ln">
<path d="M624.5 137.9 H823.2 V466"/>
<path d="M1021 143.2 H879.8 V500"/>
<path d="M798.4 653 V795"/>
<path d="M879.8 653 V851.3 H1022"/>
<path d="M466 851.3 H752"/>
<path d="M466 1003 H798.2 V959.5"/>
<path d="M1277 690.5 H1392"/>
<path d="M1135.3 852 V964.3 H1249"/>
</g>
<!--LABELS-->
<text x="127.6" y="283.3" font-size="23.2" text-anchor="middle" stroke="#000" stroke-width="1.1">Clientes</text>
<text x="443" y="489.4" font-size="23.5" text-anchor="middle" stroke="#000" stroke-width="1.1">Lockers</text>
<text x="1325.4" y="303" font-size="23.8" text-anchor="middle" fill="#111">Administrador</text>
<text class="lb" x="335.3" y="893">PC</text>
<text class="lb" x="353.4" y="1111.3">Smartphone</text>
<text x="794" y="908" font-size="23.6" text-anchor="middle" fill="#111">3G/</text>
<text x="793.8" y="936.7" font-size="24.2" text-anchor="middle" fill="#111">4G</text>
<text class="lb" x="1157.2" y="827.8">Servidor WEB</text>
<text class="lb" x="1510.3" y="830.8">Pasarela de pagos</text>
<text class="lb" x="1348.7" y="1135.8">Base de datos</text>
</svg>
</body>
</html>
